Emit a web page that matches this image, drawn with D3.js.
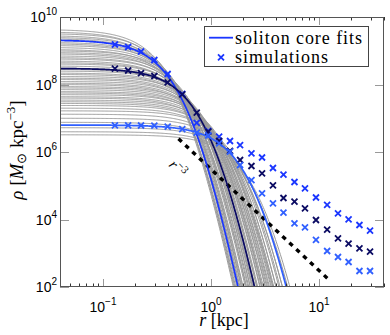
<!DOCTYPE html>
<html>
<head>
<meta charset="utf-8">
<script src="https://cdn.jsdelivr.net/npm/d3@7"></script>
<style>
  body { margin: 0; background: #fff; }
  svg { display: block; }
</style>
</head>
<body>
<div class="graph"></div>
<script>
const width = 390;
const height = 335;
const margin = {top: 17, right: 6, bottom: 48, left: 60};
const innerWidth = width - margin.left - margin.right;
const innerHeight = height - margin.top - margin.bottom;

// gray soliton fits: core density (log10) and core radius (kpc)
const grayLogRho = [9.63, 9.56, 9.51, 9.45, 9.40, 9.36, 9.31, 9.25, 9.21, 9.16, 9.10, 9.04,
                    9.00, 8.95, 8.91, 8.85, 8.80, 8.76, 8.70, 8.65, 8.61, 8.55, 8.49, 8.45,
                    8.40, 8.34, 8.30, 8.24, 8.19, 8.15, 8.09, 8.04, 8.00, 7.94, 7.90, 7.85,
                    7.79, 7.75, 7.70, 7.64, 7.60, 7.54, 7.49, 7.44, 7.38, 7.30, 7.22, 7.12,
                    7.00, 6.88, 6.72, 6.60, 6.51];
const grayRc = [0.175, 0.174, 0.189, 0.183, 0.197, 0.189, 0.214, 0.211, 0.209, 0.229, 0.228, 0.226,
                0.253, 0.253, 0.250, 0.280, 0.269, 0.285, 0.279, 0.299, 0.318, 0.309, 0.331, 0.318,
                0.355, 0.353, 0.353, 0.396, 0.389, 0.387, 0.422, 0.417, 0.415, 0.465, 0.457, 0.457,
                0.498, 0.490, 0.540, 0.537, 0.525, 0.582, 0.575, 0.582, 0.627, 0.638, 0.704, 0.700,
                0.772, 0.790, 0.891, 0.933, 0.994];

// highlighted fits (bright blue, navy, light blue)
const fitRho = [2.08e9, 3.0e8, 6.3e6];
const fitRc = [0.2, 0.327, 0.87];
const fitColors = ['#1a36ff', '#0b0b63', '#3160ff'];

// simulation radial bins (kpc) and densities (log10)
const simR = [0.129, 0.171, 0.225, 0.299, 0.397, 0.542, 0.738, 0.944, 1.19, 1.50, 1.86,
              2.37, 2.97, 3.75, 4.69, 5.93, 7.42, 9.38, 11.9, 15.0, 18.8, 23.7, 29.7];
const simTop = [9.185, 9.111, 8.978, 8.726, 8.311, 7.719, 6.864, 6.622, 6.453, 6.326, 6.207,
                5.961, 5.837, 5.526, 5.327, 5.111, 4.924, 4.652, 4.430, 4.184, 4.006, 3.837, 3.668];
const simMid = [8.468, 8.415, 8.335, 8.252, 8.065, 7.710, 7.170, 6.601, 6.326, 6.030, 5.763,
                5.585, 5.369, 5.013, 4.637, 4.527, 4.332, 3.985, 3.698, 3.443, 3.283, 3.147, 3.046];
const simLow = [6.791, 6.791, 6.785, 6.779, 6.750, 6.681, 6.572, 6.489, 6.258, 6.009, 5.615,
                5.170, 4.776, 4.480, 4.201, 3.887, 3.769, 3.393, 3.067, 2.889, 2.741, 2.474, 2.474];
const simSets = [simTop, simMid, simLow];

// r^-3 guide
const slopeR = [0.5, 12.6];
const slopeAmp = 3.1e5;

const xTickExp = [-1, 0, 1];
const yTickExp = [2, 4, 6, 8, 10];

const soliton = (rho0, rc) => r => rho0 / Math.pow(1 + 0.091 * (r / rc) * (r / rc), 8);

const svg = d3.select('.graph').append('svg')
  .attr('width', width)
  .attr('height', height);

const chart = svg.append('g')
  .attr('transform', `translate(${margin.left}, ${margin.top})`);

const x = d3.scaleLog().domain([0.04, 40]).range([0, innerWidth]);
const y = d3.scaleLog().domain([1e2, 1e10]).range([innerHeight, 0]);

chart.append('clipPath').attr('id', 'clip')
  .append('rect').attr('width', innerWidth).attr('height', innerHeight);

const plot = chart.append('g').attr('clip-path', 'url(#clip)');

const rGrid = d3.range(0, 401).map(i => 0.04 * Math.pow(1000, i / 400));
const line = d3.line().x(d => x(d[0])).y(d => y(Math.max(d[1], 1e-3)));

grayLogRho.forEach((lr, i) => {
  const f = soliton(Math.pow(10, lr), grayRc[i]);
  plot.append('path')
    .attr('d', line(rGrid.map(r => [r, f(r)])))
    .attr('fill', 'none')
    .attr('stroke', '#9a9a9a')
    .attr('stroke-width', 1);
});

// r^-3 dashed line
plot.append('path')
  .attr('d', line(slopeR.map(r => [r, slopeAmp * Math.pow(r, -3)])))
  .attr('fill', 'none')
  .attr('stroke', '#000')
  .attr('stroke-width', 3.4)
  .attr('stroke-dasharray', '4.5,5');

fitRho.forEach((rho0, i) => {
  const f = soliton(rho0, fitRc[i]);
  plot.append('path')
    .attr('d', line(rGrid.map(r => [r, f(r)])))
    .attr('fill', 'none')
    .attr('stroke', fitColors[i])
    .attr('stroke-width', 1.7);
});

const crossPath = 'M-3,-3L3,3M-3,3L3,-3';
simSets.forEach((set, i) => {
  plot.selectAll(null)
    .data(set)
    .enter().append('path')
    .attr('d', crossPath)
    .attr('transform', (d, j) => `translate(${x(simR[j])}, ${y(Math.pow(10, d))})`)
    .attr('stroke', fitColors[i])
    .attr('stroke-width', 1.8)
    .attr('fill', 'none');
});

// r^-3 label
const lab = chart.append('text')
  .attr('transform', `translate(${x(0.4)}, ${y(4e5)}) rotate(48)`)
  .style('font-family', 'Liberation Serif')
  .style('font-size', '15px');
lab.append('tspan').style('font-style', 'italic').text('r');
lab.append('tspan').attr('dy', -6).style('font-size', '11px').text('−3');

// ticks
const ticksX = x.ticks();
const isMajor = v => Math.abs(Math.log10(v) - Math.round(Math.log10(v))) < 1e-6;
ticksX.forEach(v => {
  const len = isMajor(v) ? 8 : 3.5;
  const col = isMajor(v) ? '#999' : '#333';
  const xx = Math.round(x(v)) + 0.5;
  chart.append('line').attr('x1', xx).attr('x2', xx)
    .attr('y1', innerHeight).attr('y2', innerHeight - len).attr('stroke', col);
  chart.append('line').attr('x1', xx).attr('x2', xx)
    .attr('y1', 0).attr('y2', len).attr('stroke', col);
});
yTickExp.forEach(e => {
  const yy = Math.round(y(Math.pow(10, e))) + 0.5;
  chart.append('line').attr('x1', 0).attr('x2', 9)
    .attr('y1', yy).attr('y2', yy).attr('stroke', '#999');
  chart.append('line').attr('x1', innerWidth).attr('x2', innerWidth - 9)
    .attr('y1', yy).attr('y2', yy).attr('stroke', '#999');
});

// box
chart.append('rect')
  .attr('x', 0.5).attr('y', 0.5)
  .attr('width', innerWidth - 1).attr('height', innerHeight - 1)
  .attr('fill', 'none').attr('stroke', '#555');

// tick labels
xTickExp.forEach(e => {
  const t = chart.append('text')
    .attr('x', x(Math.pow(10, e)))
    .attr('y', innerHeight + 24.5)
    .attr('text-anchor', 'middle')
    .style('font-family', 'Liberation Sans')
    .style('font-size', '14px');
  t.append('tspan').text('10');
  t.append('tspan').attr('dy', -7).style('font-size', '10px').text(e < 0 ? '−' + (-e) : e);
});
yTickExp.forEach(e => {
  const t = chart.append('text')
    .attr('x', -3)
    .attr('y', y(Math.pow(10, e)) + 5)
    .attr('text-anchor', 'end')
    .style('font-family', 'Liberation Sans')
    .style('font-size', '14px');
  t.append('tspan').text('10');
  t.append('tspan').attr('dy', -7).style('font-size', '10px').text(e);
});

// axis titles
const xt = svg.append('text')
  .attr('x', 224).attr('y', 326)
  .attr('text-anchor', 'middle')
  .style('font-family', 'Liberation Serif')
  .style('font-size', '18px');
xt.append('tspan').style('font-style', 'italic').text('r');
xt.append('tspan').text(' [kpc]');

const yt = svg.append('text')
  .attr('transform', 'translate(23, 150) rotate(-90)')
  .attr('text-anchor', 'middle')
  .style('font-family', 'Liberation Serif')
  .style('font-size', '19px');
yt.append('tspan').style('font-style', 'italic').text('ρ');
yt.append('tspan').text(' [');
yt.append('tspan').style('font-style', 'italic').text('M');
yt.append('tspan').attr('dy', 3).style('font-size', '13px').text('⊙');
yt.append('tspan').attr('dy', -3).text(' kpc');
yt.append('tspan').attr('dy', -8).style('font-size', '13px').text('−3');
yt.append('tspan').attr('dy', 8).text(']');

// legend
const lg = svg.append('g');
lg.append('rect')
  .attr('x', 204.5).attr('y', 26.5).attr('width', 164).attr('height', 40)
  .attr('fill', '#fff').attr('stroke', '#444');
lg.append('line')
  .attr('x1', 209).attr('x2', 233).attr('y1', 37.7).attr('y2', 37.7)
  .attr('stroke', fitColors[0]).attr('stroke-width', 1.8);
lg.append('path')
  .attr('d', crossPath)
  .attr('transform', 'translate(221, 57.3)')
  .attr('stroke', fitColors[0]).attr('stroke-width', 1.8);
lg.append('text').attr('x', 235).attr('y', 43.5)
  .style('font-family', 'Liberation Serif').style('font-size', '18px')
  .attr('textLength', 127)
  .text('soliton core fits');
lg.append('text').attr('x', 235).attr('y', 62.5)
  .style('font-family', 'Liberation Serif').style('font-size', '18px')
  .attr('textLength', 93)
  .text('simulations');
</script>
</body>
</html>
